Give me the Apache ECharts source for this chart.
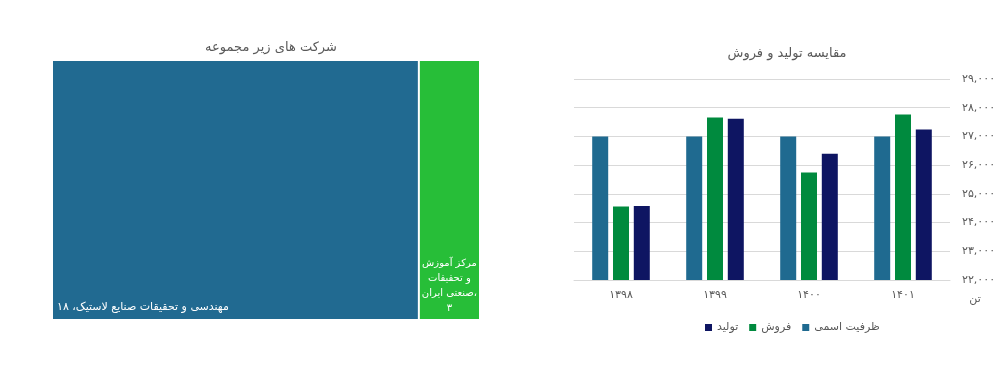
<!DOCTYPE html>
<html><head><meta charset="utf-8">
<script src="https://cdn.jsdelivr.net/npm/echarts@6/dist/echarts.min.js"></script>
<style>html,body{margin:0;padding:0;background:#fff}#c{width:1003px;height:382px}</style>
</head><body><div id="c"></div>
<script>
// ---- data ----
var treemapTitle = 'شرکت های زیر مجموعه';
var companyNames = ['مهندسی و تحقیقات صنایع لاستیک', 'مرکز آموزش و تحقیقات صنعتی ایران'];
var companyLabelLines = [['مهندسی و تحقیقات صنایع لاستیک'], ['مرکز آموزش', 'و تحقیقات', 'صنعتی ایران']];
var companyValues = [18, 3];
var companyColors = ['#216a91', '#27be38'];

var barTitle = 'مقایسه تولید و فروش';
var years = ['1398', '1399', '1400', '1401'];
var seriesNames = ['ظرفیت اسمی', 'فروش', 'تولید'];
var capacity = [27000, 27000, 27000, 27000];
var sales = [24560, 27660, 25740, 27760];
var production = [24580, 27620, 26400, 27240];
var seriesColors = ['#1f6a90', '#008a3e', '#0e1562'];
var yTicks = {min: 22000, max: 29000, interval: 1000};
var yUnit = 'تن';

function fa(s) {
  return String(s).replace(/[0-9]/g, function (d) { return '۰۱۲۳۴۵۶۷۸۹'[+d]; });
}
var FONT = 'DejaVu Sans, sans-serif';
var GREY = '#595959';

var chart = echarts.init(document.getElementById('c'), null, {renderer: 'canvas'});
var treeData = companyNames.map(function (n, i) {
  var single = companyLabelLines[i].length === 1;
  return {
    name: n, value: companyValues[i],
    itemStyle: {color: companyColors[i]},
    label: single ? {position: 'insideBottomLeft', align: 'left', distance: 1, padding: [0, 0, 3, 3]}
                  : {position: 'insideBottom', align: 'center', distance: 3, padding: 0, fontSize: 10, lineHeight: 15}
  };
});
var option = {
  animation: false,
  textStyle: {fontFamily: FONT},
  title: [
    {text: treemapTitle, left: 266, top: 36, textAlign: 'center',
     textStyle: {fontFamily: FONT, fontSize: 13, fontWeight: 'normal', color: GREY}},
    {text: barTitle, left: 782, top: 42, textAlign: 'center',
     textStyle: {fontFamily: FONT, fontSize: 13, fontWeight: 'normal', color: GREY}}
  ],
  legend: {
    data: seriesNames.slice().reverse(),
    left: 700, top: 317,
    icon: 'rect', itemWidth: 7, itemHeight: 7, itemGap: 11,
    textStyle: {fontFamily: FONT, fontSize: 11, color: GREY}
  },
  grid: {left: 574, right: 53, top: 79, height: 201, containLabel: false},
  xAxis: {
    type: 'category', data: years,
    axisLine: {lineStyle: {color: '#d9d9d9'}},
    axisTick: {show: false},
    axisLabel: {color: GREY, fontSize: 11, fontFamily: FONT, margin: 10, formatter: function (v) { return fa(v); }}
  },
  yAxis: {
    type: 'value', position: 'right',
    min: yTicks.min, max: yTicks.max, interval: yTicks.interval,
    name: yUnit, nameLocation: 'start', nameGap: 14,
    nameTextStyle: {color: GREY, fontSize: 11, fontFamily: FONT, align: 'center', padding: [0, 0, 0, 50]},
    axisLine: {show: false}, axisTick: {show: false},
    splitLine: {lineStyle: {color: '#d9d9d9'}},
    axisLabel: {color: GREY, fontSize: 11, fontFamily: FONT, margin: 12,
      formatter: function (v) { return fa(v.toLocaleString('en-US')); }}
  },
  series: [
    {type: 'treemap', left: 53, top: 61, width: 426, height: 258,
     roam: false, nodeClick: false, breadcrumb: {show: false},
     squareRatio: 0.5 * (1 + Math.sqrt(5)),
     levels: [{itemStyle: {borderWidth: 0, gapWidth: 2, borderColor: '#fff'}}],
     label: {show: true, color: '#fff', fontSize: 11, fontFamily: FONT, lineHeight: 15, overflow: 'none',
       formatter: function (p) {
         var i = companyNames.indexOf(p.name);
         var lines = companyLabelLines[i].slice();
         if (lines.length === 1) return lines[0] + '، ' + fa(p.value);
         lines[lines.length - 1] += '،';
         lines.push(fa(p.value));
         return lines.join('\n');
       }},
     upperLabel: {show: false},
     data: treeData},
    {type: 'bar', name: seriesNames[0], data: capacity, barWidth: 16, barGap: '30%', itemStyle: {color: seriesColors[0]}},
    {type: 'bar', name: seriesNames[1], data: sales, barWidth: 16, barGap: '30%', itemStyle: {color: seriesColors[1]}},
    {type: 'bar', name: seriesNames[2], data: production, barWidth: 16, barGap: '30%', itemStyle: {color: seriesColors[2]}}
  ]
};
chart.setOption(option);
</script></body></html>
